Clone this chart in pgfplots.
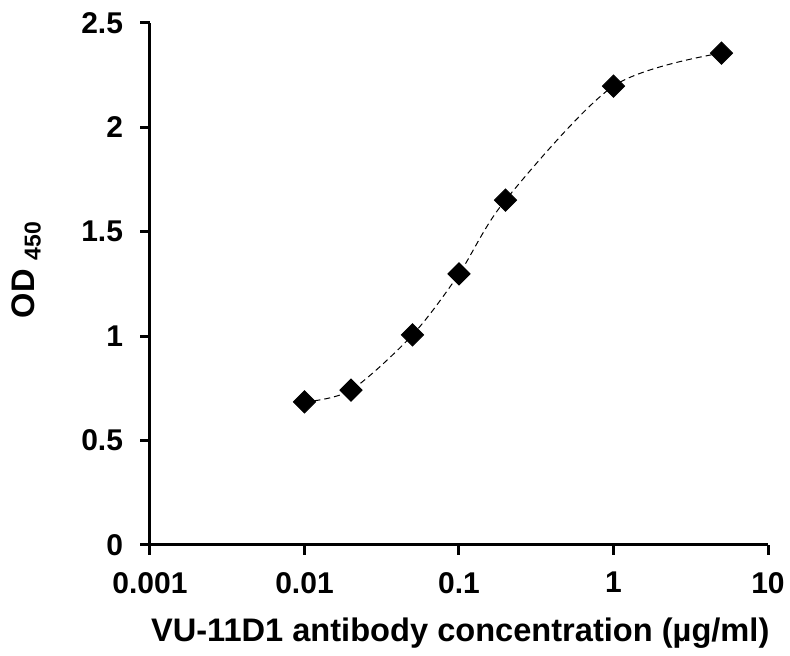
\documentclass[border=0pt]{standalone}
\usepackage{pgfplots}
\pgfplotsset{compat=1.18}
\usepackage{fontspec}
\setmainfont{Liberation Sans}
\begin{document}
\begin{tikzpicture}
\begin{axis}[
  scale only axis,
  width=309pt, height=261pt,
  at={(0,0)}, anchor=south west,
  xmode=log, log basis x=10,
  xmin=0.001, xmax=10, ymin=0, ymax=2.5,
  axis lines*=left,
  axis line style={line width=1.5pt},
  every tick/.style={line width=1.5pt, black},
  tick align=outside,
  major tick length=5pt,
  minor tick num=0,
  xtick={0.001,0.01,0.1,1,10},
  xticklabels={0.001,0.01,0.1,1,10},
  ytick={0,0.5,1,1.5,2,2.5},
  yticklabels={0,0.5,1,1.5,2,2.5},
  tick label style={font=\fontsize{15}{17}\selectfont\bfseries},
  x tick label style={yshift=-5pt},
  y tick label style={xshift=-5pt},
  /pgf/number format/assume math mode=true,
  xlabel={VU-11D1 antibody concentration (\textmu g/ml)},
  ylabel={OD \raisebox{-0.35ex}{\fontsize{11.5}{13}\selectfont\bfseries 450}},
  label style={font=\fontsize{16.3}{18}\selectfont\bfseries},
  x label style={at={(axis description cs:0.502,-0.169)}, anchor=center},
  y label style={at={(axis description cs:-0.2,0.527)}, anchor=center},
  clip=false,
]
\addplot[black, densely dashed, line width=0.5pt, smooth,
  mark=square*, mark size=3.9pt, mark options={solid, rotate=45, fill=black}]
  coordinates {
  (0.01,0.685) (0.02,0.742) (0.05,1.006) (0.1,1.298) (0.2,1.652) (1,2.198) (5,2.356)
  };
\end{axis}
\pgfresetboundingbox
\path (-75pt,-55.5pt) rectangle (320pt,272.5pt);
\end{tikzpicture}
\end{document}
